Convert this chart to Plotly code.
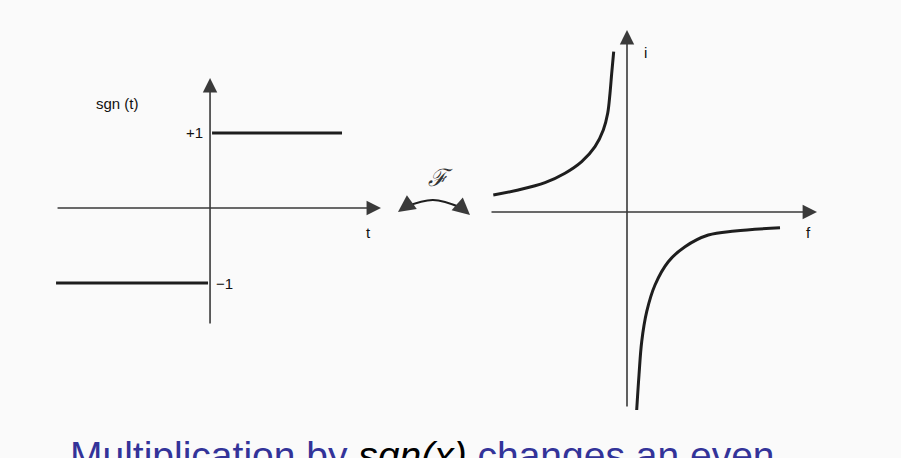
import plotly.graph_objects as go

# ---- left diagram: sgn(t) ----
t_neg = [-1.0, -0.013]
sgn_neg = [-1, -1]
t_pos = [0.013, 0.857]
sgn_pos = [1, 1]
t_axis = [-1.0, 1.11]      # horizontal axis extent (tail, tip)
sgn_axis = [-1.56, 1.733]  # vertical axis extent (tail, tip)

# ---- right diagram: imaginary spectrum ----
f_upper = [-2.674, -2.174, -1.64, -1.24, -0.906, -0.64, -0.474, -0.386, -0.34, -0.306, -0.266]
v_upper = [0.34, 0.44, 0.586, 0.774, 1.006, 1.306, 1.64, 1.974, 2.374, 2.774, 3.206]
f_lower = [0.194, 0.24, 0.294, 0.394, 0.56, 0.826, 1.16, 1.626, 2.16, 3.06]
v_lower = [-3.96, -3.26, -2.594, -1.994, -1.46, -0.994, -0.694, -0.46, -0.38, -0.314]
f_axis = [-2.74, 3.8]
v_axis = [-3.92, 3.64]

# Fourier-transform double arrow (in right-diagram units)
arc_f = [-4.44, -3.88, -3.3]
arc_v = [0.10, 0.24, 0.08]
arc_tips_f = [-4.58, -3.14]
arc_tips_v = [0.0, -0.06]

caption_blue = "#333399"
ink = "#1e1e1e"
axis_ink = "#3a3a3a"
lbl_font = dict(family="Liberation Sans, Arial, sans-serif", size=15, color="#111111")

fig = go.Figure()

# left step function
fig.add_trace(go.Scatter(x=t_neg, y=sgn_neg, mode="lines", line=dict(color=ink, width=3),
                         xaxis="x", yaxis="y", hoverinfo="skip"))
fig.add_trace(go.Scatter(x=t_pos, y=sgn_pos, mode="lines", line=dict(color=ink, width=3),
                         xaxis="x", yaxis="y", hoverinfo="skip"))

# right hyperbola branches
fig.add_trace(go.Scatter(x=f_upper, y=v_upper, mode="lines",
                         line=dict(color=ink, width=3, shape="spline", smoothing=1.0),
                         xaxis="x2", yaxis="y2", hoverinfo="skip"))
fig.add_trace(go.Scatter(x=f_lower, y=v_lower, mode="lines",
                         line=dict(color=ink, width=3, shape="spline", smoothing=1.0),
                         xaxis="x2", yaxis="y2", hoverinfo="skip"))

# arc of the Fourier double arrow
fig.add_trace(go.Scatter(x=arc_f, y=arc_v, mode="lines", line=dict(color=ink, width=2.2, shape="spline"),
                         xaxis="x2", yaxis="y2", hoverinfo="skip"))

ann = []
def arrow(x0, y0, x1, y1, xr, yr, width=1.6, size=1.8, head=2):
    ann.append(dict(x=x1, y=y1, ax=x0, ay=y0, xref=xr, yref=yr, axref=xr, ayref=yr,
                    text="", showarrow=True, arrowhead=head, arrowsize=size,
                    arrowwidth=width, arrowcolor=axis_ink))

# left axes
arrow(t_axis[0], 0, t_axis[1], 0, "x", "y")
arrow(0, sgn_axis[0], 0, sgn_axis[1], "x", "y")
# right axes
arrow(f_axis[0], 0, f_axis[1], 0, "x2", "y2")
arrow(0, v_axis[0], 0, v_axis[1], "x2", "y2")
# Fourier arrow heads
arrow(arc_f[0], arc_v[0], arc_tips_f[0], arc_tips_v[0], "x2", "y2", width=2.0, size=1.7)
arrow(arc_f[-1], arc_v[-1], arc_tips_f[1], arc_tips_v[1], "x2", "y2", width=2.0, size=1.7)

# labels
ann += [
    dict(x=-0.604, y=1.387, xref="x", yref="y", text="sgn (t)", showarrow=False, font=lbl_font),
    dict(x=-0.03, y=1.0, xref="x", yref="y", text="+1", showarrow=False, xanchor="right", font=lbl_font),
    dict(x=0.026, y=-1.0, xref="x", yref="y", text="\u22121", showarrow=False, xanchor="left", font=lbl_font),
    dict(x=1.026, y=-0.32, xref="x", yref="y", text="t", showarrow=False, font=lbl_font),
    dict(x=0.36, y=3.2, xref="x2", yref="y2", text="i", showarrow=False, font=lbl_font),
    dict(x=3.62, y=-0.4, xref="x2", yref="y2", text="f", showarrow=False, font=lbl_font),
    dict(x=-3.74, y=0.68, xref="x2", yref="y2", text="<i>\u2131</i>", showarrow=False,
         font=dict(family="DejaVu Serif, serif", size=24, color="#333333")),
    dict(x=68 / 901, y=-0.046, xref="paper", yref="paper", xanchor="left", yanchor="bottom",
         text="Multiplication by <span style='color:#000000'><i>sgn(x)</i></span> changes an even",
         showarrow=False, font=dict(family="Liberation Sans, Arial, sans-serif", size=39, color=caption_blue)),
]

hidden = dict(visible=False, showgrid=False, zeroline=False, fixedrange=True)
fig.update_layout(
    width=901, height=458,
    margin=dict(l=0, r=0, t=0, b=0),
    paper_bgcolor="#fafafa", plot_bgcolor="#fafafa",
    showlegend=False,
    xaxis=dict(range=[-1.364, 4.487], domain=[0, 1], **hidden),
    yaxis=dict(range=[-3.333, 2.773], domain=[0, 1], **hidden),
    xaxis2=dict(range=[-12.54, 5.48], domain=[0, 1], anchor="y2", overlaying="x", **hidden),
    yaxis2=dict(range=[-4.92, 4.24], domain=[0, 1], anchor="x2", overlaying="y", **hidden),
    annotations=ann,
)

fig.write_html("out.html", config={"displayModeBar": False},
               post_script="document.body.style.margin='0';document.body.style.overflow='hidden';")
